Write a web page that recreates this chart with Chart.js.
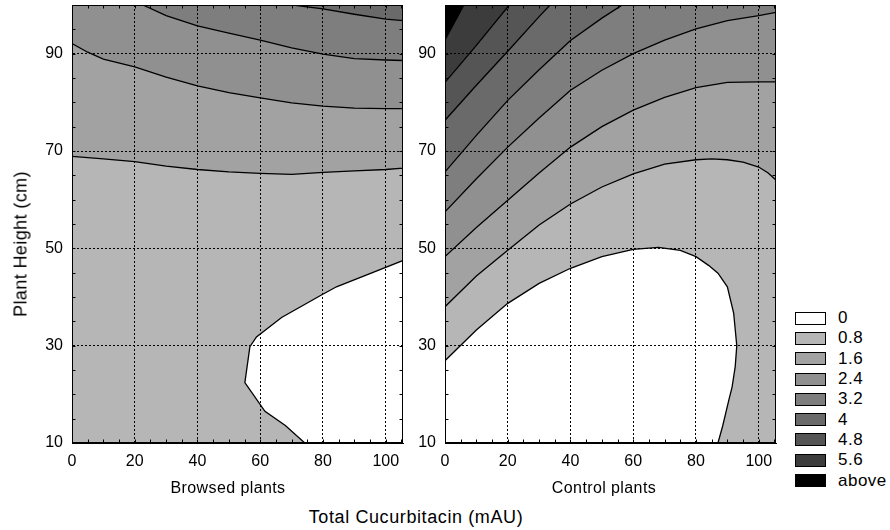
<!DOCTYPE html>
<html lang="en">
<head>
    <meta charset="UTF-8">
    <title>Plant Height vs Total Cucurbitacin</title>
    <script src="https://cdn.jsdelivr.net/npm/chart.js"></script>
    <style>
        body { margin: 0; background: #fff; font-family: "Liberation Sans", Arial, sans-serif; color: #000; }
        #wrap { position: relative; width: 890px; height: 530px; }
        .panel { position: absolute; top: 0; }
        .label { position: absolute; white-space: nowrap; transform: translate(-50%, -50%); }
        #legend { position: absolute; left: 795px; top: 308px; font-size: 17px; letter-spacing: 0.5px; }
        .legend-row { display: flex; align-items: center; height: 20.3px; }
        .legend-box { width: 29px; height: 11px; border: 1px solid #000; margin-right: 12px; }
    </style>
</head>
<body>
    <div id="wrap">
        <div class="panel" style="left:0"><canvas id="browsed" width="410" height="480"></canvas></div>
        <div class="panel" style="left:410px"><canvas id="control" width="375" height="480"></canvas></div>
        <div class="label" style="left:21px;top:244px;font-size:18px;letter-spacing:0.4px;transform:translate(-50%,-50%) rotate(-90deg)">Plant Height (cm)</div>
        <div class="label" style="left:228px;top:488px;font-size:16px;letter-spacing:0.4px">Browsed plants</div>
        <div class="label" style="left:604px;top:488px;font-size:16px;letter-spacing:0.4px">Control plants</div>
        <div class="label" style="left:416px;top:517px;font-size:18px;letter-spacing:0.6px">Total Cucurbitacin (mAU)</div>
        <div id="legend"></div>
    </div>

    <script>
        // axes
        const xTicks = [0, 20, 40, 60, 80, 100];
        const yTicks = [10, 30, 50, 70, 90];
        const xRange = [0, 105.5];
        const yRange = [10, 100];

        // contour levels (legend)
        const levelLabels = ['0', '0.8', '1.6', '2.4', '3.2', '4', '4.8', '5.6', 'above'];
        const levelColors = ['#ffffff', '#b6b6b6', '#a2a2a2', '#909090', '#7e7e7e', '#6a6a6a', '#555555', '#3c3c3c', '#000000'];

        // Browsed plants: contour lines [x, y]
        const browsed0 = [[74.2, 10], [68, 13.6], [61.5, 16.5], [55.1, 22.4], [56.7, 29.8], [58.8, 31.8], [66.8, 35.8], [79.5, 40.4], [84.3, 42.1], [105.5, 47.5]];
        const browsed08 = [[0, 68.9], [10, 68.4], [20, 67.8], [30, 66.9], [40, 66.2], [50, 65.7], [60, 65.4], [70, 65.2], [80, 65.6], [90, 65.9], [100, 66.2], [105.5, 66.5]];
        const browsed16 = [[0, 92.1], [5, 90.3], [10, 88.9], [20, 87.3], [30, 85.2], [40, 83.4], [50, 82], [60, 80.9], [70, 79.9], [80, 79.2], [90, 78.8], [100, 78.7], [105.5, 78.7]];
        const browsed24 = [[22.6, 100], [30, 97.8], [40, 95.7], [50, 94.2], [60, 92.8], [70, 91.2], [80, 89.9], [90, 89], [100, 88.7], [105.5, 88.6]];
        const browsed32 = [[70.5, 100], [80, 99.2], [90, 98.1], [100, 97.1], [105.5, 96.8]];

        // Control plants
        const control0 = [[0, 26.9], [10, 33.2], [20, 38.7], [30, 42.8], [40, 45.9], [50, 48.3], [60, 49.8], [68, 50.2], [75, 49.6], [80, 48.3], [84, 46.5], [87, 44.9], [90, 42.1], [92, 36.7], [93, 30], [92.5, 25.7], [91.5, 21.5], [90.5, 18.9], [88.5, 13.5], [87, 10]];
        const control08 = [[0, 38], [10, 44.3], [20, 49.6], [30, 54.8], [40, 59.1], [50, 62.6], [60, 65.3], [70, 67.3], [80, 68.2], [85, 68.4], [90, 68.2], [95, 67.7], [100, 66.7], [103, 65.5], [105.5, 64]];
        const control16 = [[0, 48.3], [10, 54.3], [20, 59.9], [30, 65.5], [40, 70.8], [50, 75], [60, 78.4], [70, 81], [80, 83], [90, 84.1], [100, 84.2], [105.5, 84.2]];
        const control24 = [[0, 57.5], [10, 64.3], [20, 70.8], [30, 76.8], [40, 82.5], [50, 86.6], [60, 90], [70, 92.8], [80, 95.1], [90, 96.8], [100, 97.8], [105.5, 98.5]];
        const control32 = [[0, 65.7], [10, 73.2], [20, 80.4], [30, 86.7], [40, 92.7], [50, 97.3], [56.5, 100]];
        const control40 = [[0, 76.3], [10, 83.5], [20, 90.5], [30, 97.6], [33.5, 100]];
        const control48 = [[0, 84.1], [10, 91.7], [20.5, 100]];
        const control56 = [[0, 92.8], [6, 100]];

        const corners = {
            TL: [xRange[0], yRange[1]], TR: [xRange[1], yRange[1]],
            BL: [xRange[0], yRange[0]], BR: [xRange[1], yRange[0]]
        };

        // region = contour line closed along the plot edges, shade = legend index
        const browsedRegions = [
            { line: browsed0, close: ['BR'], shade: 0 },
            { line: browsed08, close: ['TR', 'TL'], shade: 2 },
            { line: browsed16, close: ['TR', 'TL'], shade: 3 },
            { line: browsed24, close: ['TR'], shade: 4 },
            { line: browsed32, close: ['TR'], shade: 5 }
        ];
        const controlRegions = [
            { line: control0, close: ['BL'], shade: 0 },
            { line: control08, close: ['TR', 'TL'], shade: 2 },
            { line: control16, close: ['TR', 'TL'], shade: 3 },
            { line: control24, close: ['TR', 'TL'], shade: 4 },
            { line: control32, close: ['TL'], shade: 5 },
            { line: control40, close: ['TL'], shade: 6 },
            { line: control48, close: ['TL'], shade: 7 },
            { line: control56, close: ['TL'], shade: 8 }
        ];

        Chart.defaults.font.family = '"Liberation Sans", Arial, sans-serif';
        Chart.defaults.font.size = 16;
        Chart.defaults.color = '#000';

        // base band, frame and small inward ticks
        const plotFrame = {
            id: 'plotFrame',
            beforeDraw(chart) {
                const a = chart.chartArea;
                chart.ctx.save();
                chart.ctx.fillStyle = levelColors[1];
                chart.ctx.fillRect(a.left, a.top, a.right - a.left, a.bottom - a.top);
                chart.ctx.restore();
            },
            afterDraw(chart) {
                const { ctx, chartArea: a, scales } = chart;
                ctx.save();
                ctx.strokeStyle = '#000';
                ctx.lineWidth = 1;
                const l = Math.round(a.left) + 0.5, r = Math.round(a.right) - 0.5;
                const t = Math.round(a.top) + 0.5, b = Math.round(a.bottom) - 0.5;
                ctx.strokeRect(l, t, r - l, b - t);
                ctx.beginPath();
                for (let v = xRange[0] + 5; v < xRange[1]; v += 5) {
                    const px = Math.round(scales.x.getPixelForValue(v)) + 0.5;
                    ctx.moveTo(px, b); ctx.lineTo(px, b - 3);
                    ctx.moveTo(px, t); ctx.lineTo(px, t + 3);
                }
                for (let v = yRange[0] + 5; v < yRange[1]; v += 5) {
                    const py = Math.round(scales.y.getPixelForValue(v)) + 0.5;
                    ctx.moveTo(l, py); ctx.lineTo(l + 3, py);
                    ctx.moveTo(r, py); ctx.lineTo(r - 3, py);
                }
                ctx.stroke();
                ctx.restore();
            }
        };

        function makeChart(id, regions, axisWidth, padRight) {
            const datasets = regions.map((reg, i) => ({
                data: reg.line.concat(reg.close.map(c => corners[c])).map(([x, y]) => ({ x, y })),
                backgroundColor: levelColors[reg.shade],
                borderColor: '#000',
                borderWidth: 1.3,
                fill: 'shape',
                pointRadius: 0,
                tension: 0,
                order: regions.length - i
            }));
            return new Chart(document.getElementById(id), {
                type: 'line',
                data: { datasets },
                plugins: [plotFrame],
                options: {
                    responsive: false,
                    animation: false,
                    devicePixelRatio: 1,
                    layout: { padding: { top: 5, right: padRight, left: 0, bottom: 0 } },
                    plugins: { legend: { display: false }, tooltip: { enabled: false } },
                    scales: {
                        x: {
                            type: 'linear', min: xRange[0], max: xRange[1],
                            afterBuildTicks: s => { s.ticks = xTicks.map(v => ({ value: v })); },
                            afterFit: s => { s.height = 37; s.paddingLeft = 0; s.paddingRight = 0; },
                            ticks: { autoSkip: false, maxRotation: 0, padding: 9 },
                            grid: { color: '#000', drawTicks: false, z: 1 },
                            border: { color: '#000', dash: [2, 2], z: 1 }
                        },
                        y: {
                            type: 'linear', min: yRange[0], max: yRange[1],
                            afterBuildTicks: s => { s.ticks = yTicks.map(v => ({ value: v })); },
                            afterFit: s => { s.width = axisWidth; s.paddingTop = 0; s.paddingBottom = 0; },
                            ticks: { autoSkip: false, padding: 9 },
                            grid: { color: '#000', drawTicks: false, z: 1 },
                            border: { color: '#000', dash: [2, 2], z: 1 }
                        }
                    }
                }
            });
        }

        makeChart('browsed', browsedRegions, 72, 7);
        makeChart('control', controlRegions, 35, 9);

        // legend
        document.getElementById('legend').innerHTML = levelLabels.map((lab, i) => `
            <div class="legend-row">
                <div class="legend-box" style="background:${levelColors[i]}"></div>
                <span>${lab}</span>
            </div>`).join('');
    </script>
</body>
</html>
